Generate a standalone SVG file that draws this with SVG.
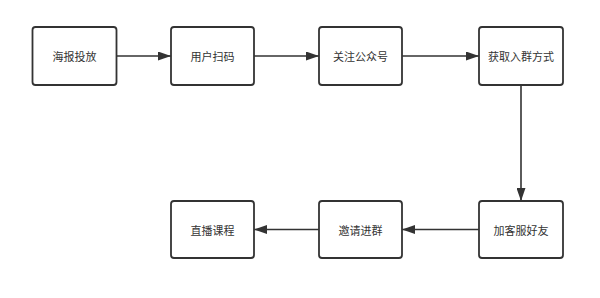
<svg xmlns="http://www.w3.org/2000/svg" width="600" height="298" viewBox="0 0 600 298">
<style>
.box{fill:#ffffff;stroke:#333333;stroke-width:1.8}
.lbl{font-family:"Noto Sans CJK SC","Noto Sans",sans-serif;font-size:11px;fill:#333333;text-anchor:middle;dominant-baseline:central}
.edge{fill:none;stroke:#333333;stroke-width:1.6}
</style>
<defs>
<marker id="arr" viewBox="0 0 13 9" refX="13" refY="4.5" markerWidth="13" markerHeight="9" markerUnits="userSpaceOnUse" orient="auto">
<path d="M0,0 L13,4.5 L0,9 Z" fill="#333333"/>
</marker>
</defs>
<rect width="600" height="298" fill="#ffffff"/>
<g id="connectors">
<line class="edge" x1="116.5" y1="56" x2="171" y2="56" marker-end="url(#arr)"/>
<line class="edge" x1="254" y1="56" x2="319" y2="56" marker-end="url(#arr)"/>
<line class="edge" x1="402" y1="56" x2="479" y2="56" marker-end="url(#arr)"/>
<line class="edge" x1="521" y1="85" x2="521" y2="201" marker-end="url(#arr)"/>
<line class="edge" x1="479" y1="229.5" x2="402" y2="229.5" marker-end="url(#arr)"/>
<line class="edge" x1="319" y1="229.5" x2="254" y2="229.5" marker-end="url(#arr)"/>
</g>
<g id="n1"><rect class="box" x="32.5" y="27" width="84" height="58" rx="3"/><text class="lbl" x="74.5" y="56">海报投放</text></g>
<g id="n2"><rect class="box" x="171" y="27" width="83" height="58" rx="3"/><text class="lbl" x="212.5" y="56">用户扫码</text></g>
<g id="n3"><rect class="box" x="319" y="27" width="83" height="58" rx="3"/><text class="lbl" x="360.5" y="56">关注公众号</text></g>
<g id="n4"><rect class="box" x="479" y="27" width="84" height="58" rx="3"/><text class="lbl" x="521" y="56">获取入群方式</text></g>
<g id="n5"><rect class="box" x="479" y="201" width="84" height="57" rx="3"/><text class="lbl" x="521" y="229.5">加客服好友</text></g>
<g id="n6"><rect class="box" x="319" y="201" width="83" height="57" rx="3"/><text class="lbl" x="360.5" y="229.5">邀请进群</text></g>
<g id="n7"><rect class="box" x="171" y="201" width="83" height="57" rx="3"/><text class="lbl" x="212.5" y="229.5">直播课程</text></g>
</svg>
